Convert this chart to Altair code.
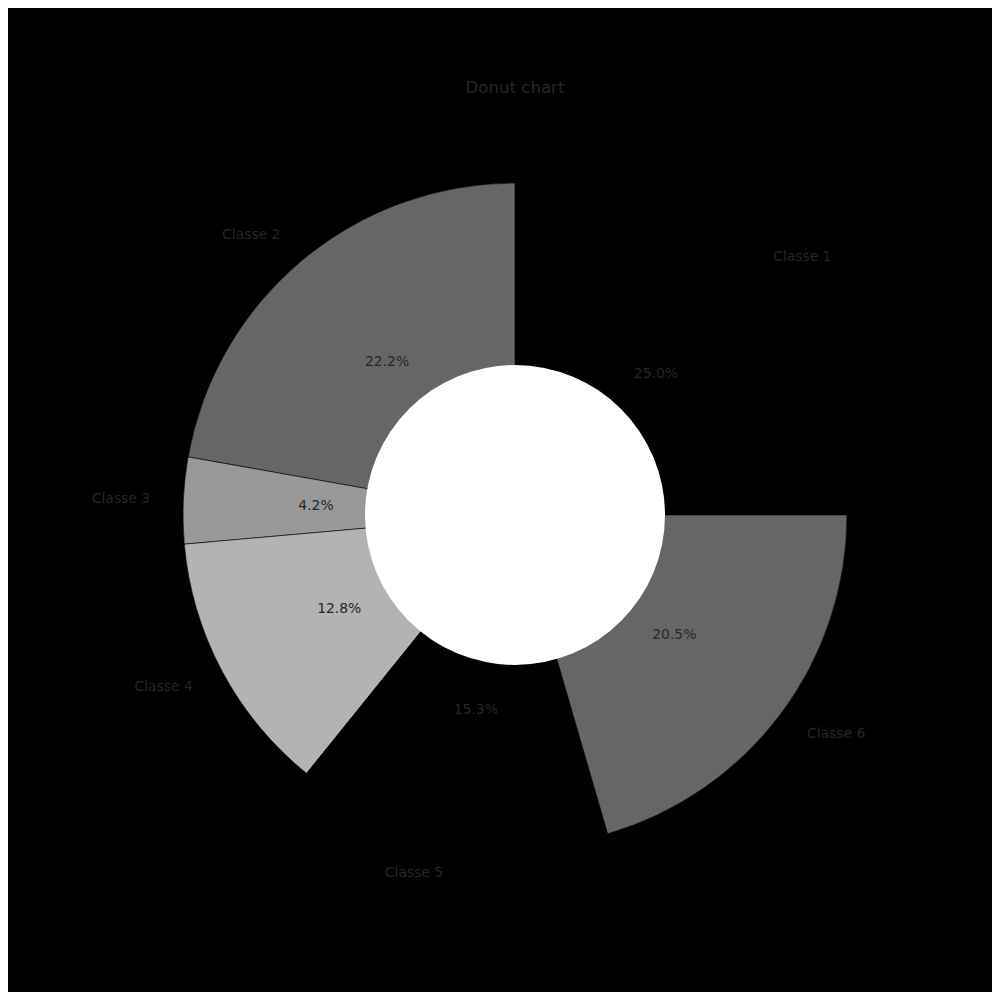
import math

import altair as alt
import pandas as pd

classes = ["Classe 1", "Classe 2", "Classe 3", "Classe 4", "Classe 5", "Classe 6"]
shares = [25.0, 22.2, 4.2, 12.8, 15.3, 20.5]
colors = ["#000000", "#666666", "#999999", "#b3b3b3", "#000000", "#666666"]

df = pd.DataFrame({"classe": classes, "share": shares})
df["order"] = range(len(df))
df["mid"] = df["share"].cumsum() - df["share"] / 2
df["pct"] = [f"{v:.1f}%" for v in df["share"]]
# matplotlib style: start at 3 o'clock and go counterclockwise
df["side"] = ["right" if math.cos(2 * math.pi * m / 100) >= 0 else "left" for m in df["mid"]]

CX, CY = 507, 507
R_OUT, R_IN = 332, 150
TEXT = "#262626"
FONT = "DejaVu Sans"

theta_scale = alt.Scale(domain=[0, 100], range=[math.pi / 2, math.pi / 2 - 2 * math.pi])
center = dict(x=alt.value(CX), y=alt.value(CY))

base = alt.Chart(df)

wedges = base.mark_arc(radius=R_OUT, stroke="black", strokeWidth=0.6).encode(
    theta=alt.Theta("share:Q", stack=True, scale=theta_scale),
    color=alt.Color("classe:N", scale=alt.Scale(domain=classes, range=colors), legend=None),
    order=alt.Order("order:Q"),
    **center,
)

hole = (
    alt.Chart(pd.DataFrame({"a": [0]}))
    .mark_arc(radius=R_IN, theta=0, theta2=2 * math.pi, color="white")
    .encode(**center)
)

pct_text = base.mark_text(
    radius=R_OUT * 0.6, font=FONT, fontSize=13.9, color=TEXT, baseline="middle"
).encode(
    theta=alt.Theta("mid:Q", stack=None, scale=theta_scale),
    text="pct:N",
    **center,
)

label_right = base.transform_filter(alt.datum.side == "right").mark_text(
    radius=R_OUT * 1.1, font=FONT, fontSize=13.9, color=TEXT, align="left", baseline="middle"
).encode(
    theta=alt.Theta("mid:Q", stack=None, scale=theta_scale),
    text="classe:N",
    **center,
)

label_left = base.transform_filter(alt.datum.side == "left").mark_text(
    radius=R_OUT * 1.1, font=FONT, fontSize=13.9, color=TEXT, align="right", baseline="middle"
).encode(
    theta=alt.Theta("mid:Q", stack=None, scale=theta_scale),
    text="classe:N",
    **center,
)

title = (
    alt.Chart(pd.DataFrame({"t": ["Donut chart"]}))
    .mark_text(font=FONT, fontSize=16.6, color=TEXT, baseline="middle")
    .encode(x=alt.value(CX), y=alt.value(80), text="t:N")
)

chart = (
    alt.layer(wedges, hole, pct_text, label_right, label_left, title)
    .properties(width=984, height=984, background="black", padding=0, autosize="none")
    .configure_view(stroke=None)
)

chart.save("out.html", embed_options={"renderer": "svg", "actions": False})
